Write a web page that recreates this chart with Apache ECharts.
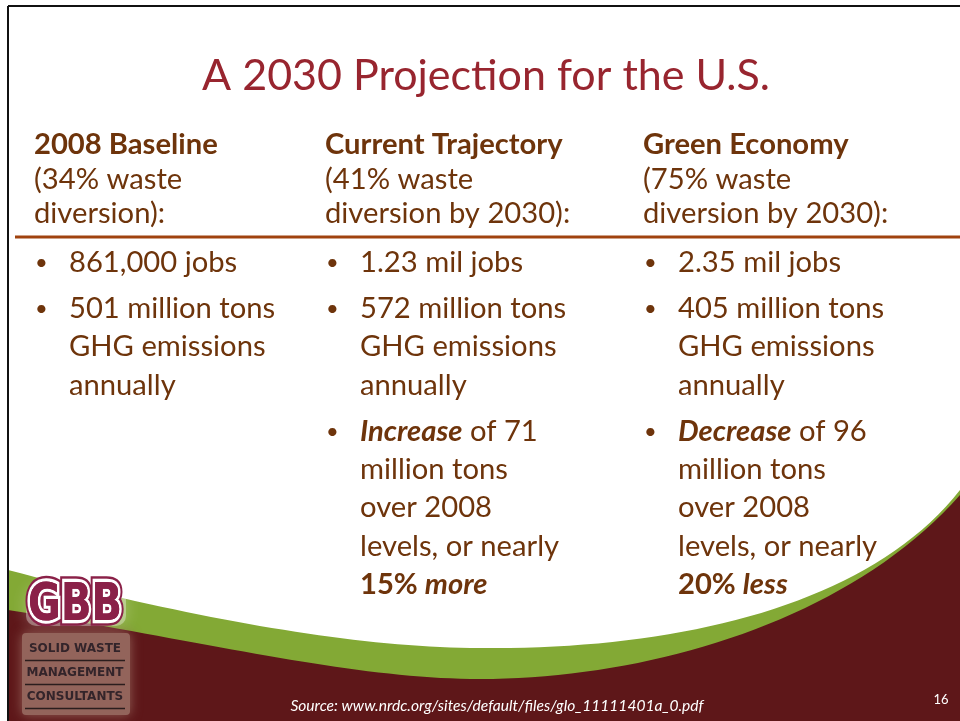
<!DOCTYPE html>
<html>
<head>
<meta charset="utf-8">
<script src="https://cdn.jsdelivr.net/npm/echarts@6/dist/echarts.min.js"></script>
<style>
  html, body { margin: 0; padding: 0; background: #ffffff; }
  #main { width: 960px; height: 721px; }
</style>
</head>
<body>
<div id="main"></div>
<script>
// slide content
var slideTitle = "A 2030 Projection for the U.S.";
var columnTitles = ["2008 Baseline", "Current Trajectory", "Green Economy"];
var diversionRates = [34, 41, 75];
var diversionYears = ["", " by 2030", " by 2030"];
var jobs = ["861,000 jobs", "1.23 mil jobs", "2.35 mil jobs"];
var emissions = [501, 572, 405];
var changeWords = [null, "Increase", "Decrease"];
var changeAmounts = [null, 71, 96];
var changePercents = [null, "15%", "20%"];
var changeTails = [null, "more", "less"];
var logoLines = ["SOLID WASTE", "MANAGEMENT", "CONSULTANTS"];
var sourceText = "Source: www.nrdc.org/sites/default/files/glo_11111401a_0.pdf";
var slideNumber = "16";

var FONT = "Lato";
var FS = 29.2;
var BROWN = "#6e340b";
var colX = [34, 325, 643];

var chart = echarts.init(document.getElementById("main"));
var elements = [];

function txt(x, y, text, extra) {
  var style = Object.assign({
    x: x, y: y, text: text,
    fill: BROWN, fontFamily: FONT, fontSize: FS,
    verticalAlign: "middle", align: "left"
  }, extra || {});
  elements.push({ type: "text", z: 10, style: style });
}

function bullet(x, y) {
  txt(x, y, "\u2022", { fontSize: 22 });
}

// sample a chain of cubic segments into polygon points
function curve(segs) {
  var pts = [];
  segs.forEach(function (s, si) {
    for (var j = si === 0 ? 0 : 1; j <= 40; j++) {
      var t = j / 40, u = 1 - t;
      pts.push([
        u * u * u * s[0][0] + 3 * u * u * t * s[1][0] + 3 * u * t * t * s[2][0] + t * t * t * s[3][0],
        u * u * u * s[0][1] + 3 * u * u * t * s[1][1] + 3 * u * t * t * s[2][1] + t * t * t * s[3][1]
      ]);
    }
  });
  pts.push([960, 721], [8, 721]);
  return pts;
}

// bottom swoosh
elements.push({
  type: "polygon", z: 1,
  shape: { points: curve([
    [[8, 570], [180, 615], [350, 648], [480, 648]],
    [[480, 648], [680, 650], [870, 605], [960, 490]]
  ]) },
  style: { fill: "#83a935" }
});
elements.push({
  type: "polygon", z: 2,
  shape: { points: curve([
    [[8, 610], [200, 640], [350, 679], [480, 679]],
    [[480, 679], [650, 679], [850, 620], [960, 495]]
  ]) },
  style: { fill: "#5e1719" }
});

// slide frame
elements.push({ type: "line", z: 20, shape: { x1: 8, y1: 6, x2: 960, y2: 6 }, style: { stroke: "#111", lineWidth: 2 } });
elements.push({ type: "line", z: 20, shape: { x1: 8, y1: 6, x2: 8, y2: 721 }, style: { stroke: "#111", lineWidth: 2 } });

// title
txt(486, 76, slideTitle, { fill: "#98252f", fontSize: 43, align: "center" });

// divider under headers
elements.push({ type: "line", z: 5, shape: { x1: 15, y1: 237, x2: 960, y2: 237 }, style: { stroke: "#a0420e", lineWidth: 3 } });

for (var i = 0; i < 3; i++) {
  var x = colX[i];
  txt(x, 145, columnTitles[i], { fontWeight: "bold" });
  txt(x, 180, "(" + diversionRates[i] + "% waste");
  txt(x, 214, "diversion" + diversionYears[i] + "):");

  var bx = x + 1, tx = x + 35;
  bullet(bx, 263);
  txt(tx, 263, jobs[i]);
  bullet(bx, 309);
  txt(tx, 309, emissions[i] + " million tons");
  txt(tx, 347, "GHG emissions");
  txt(tx, 386, "annually");

  if (changeWords[i]) {
    bullet(bx, 432);
    elements.push({
      type: "text", z: 10,
      style: {
        x: tx, y: 432, verticalAlign: "middle",
        text: "{bi|" + changeWords[i] + "}{n| of " + changeAmounts[i] + "}",
        rich: {
          bi: { fill: BROWN, fontFamily: FONT, fontSize: FS, fontWeight: "bold", fontStyle: "italic" },
          n: { fill: BROWN, fontFamily: FONT, fontSize: FS }
        }
      }
    });
    txt(tx, 470, "million tons");
    txt(tx, 508, "over 2008");
    txt(tx, 547, "levels, or nearly");
    elements.push({
      type: "text", z: 10,
      style: {
        x: tx, y: 585, verticalAlign: "middle",
        text: "{b|" + changePercents[i] + " }{bi|" + changeTails[i] + "}",
        rich: {
          b: { fill: BROWN, fontFamily: FONT, fontSize: FS, fontWeight: "bold" },
          bi: { fill: BROWN, fontFamily: FONT, fontSize: FS, fontWeight: "bold", fontStyle: "italic" }
        }
      }
    });
  }
}

// logo: soft glow behind GBB, brown box behind the words
elements.push({
  type: "rect", z: 5,
  shape: { x: 26, y: 588, width: 100, height: 38, r: 10 },
  style: { fill: "rgba(255,255,255,0.35)", shadowBlur: 16, shadowColor: "rgba(255,255,255,0.7)" }
});
elements.push({
  type: "rect", z: 6,
  shape: { x: 22, y: 633, width: 108, height: 82, r: 4 },
  style: { fill: "#93645b", shadowBlur: 12, shadowColor: "rgba(147,100,91,0.95)" }
});
var gbbStyle = {
  x: 0, y: 0, text: "GBB", align: "center", verticalAlign: "middle",
  fontSize: 40, fontWeight: "bold", fontFamily: "DejaVu Sans"
};
elements.push({
  type: "text", z: 10, x: 75, y: 606, scaleX: 1.0, scaleY: 1.3,
  style: Object.assign({}, gbbStyle, { fill: "#8a2148", stroke: "#8a2148", lineWidth: 9 })
});
elements.push({
  type: "text", z: 11, x: 75, y: 606, scaleX: 1.0, scaleY: 1.3,
  style: Object.assign({}, gbbStyle, { fill: "#8a2148", stroke: "#ffffff", lineWidth: 5 })
});
elements.push({
  type: "text", z: 12, x: 75, y: 606, scaleX: 1.0, scaleY: 1.3,
  style: Object.assign({}, gbbStyle, { fill: "#8a2148" })
});
for (var k = 0; k < logoLines.length; k++) {
  txt(75, 649 + k * 24, logoLines[k], {
    align: "center", fontSize: 12, fontWeight: "bold", fontFamily: "DejaVu Sans",
    fill: "#33242a"
  });
  elements.push({
    type: "line", z: 10,
    shape: { x1: 25, y1: 660.5 + k * 24, x2: 125, y2: 660.5 + k * 24 },
    style: { stroke: "#2b1d1d", lineWidth: 1.5 }
  });
}

// footer
txt(497, 706, sourceText, { fill: "#ffffff", fontSize: 15.6, fontStyle: "italic", align: "center" });
txt(941, 700, slideNumber, { fill: "#ffffff", fontSize: 13, align: "center" });

chart.setOption({
  animation: false,
  backgroundColor: "#ffffff",
  graphic: { elements: elements }
});
</script>
</body>
</html>
